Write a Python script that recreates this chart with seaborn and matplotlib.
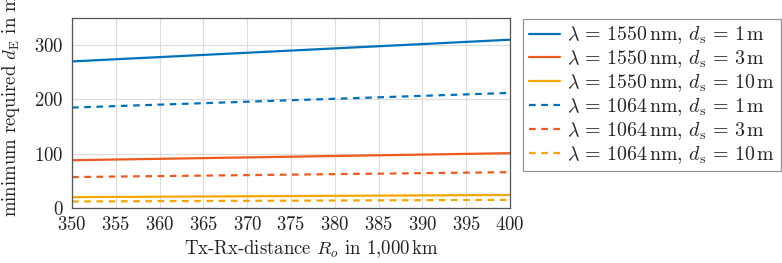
import matplotlib
matplotlib.use("Agg")
import matplotlib.pyplot as plt
import seaborn as sns
import pandas as pd

distance = [350, 375, 400]
blue_1550 = [270, 290, 310]
red_1550 = [88, 94.5, 101]
yellow_1550 = [20, 22, 24]
blue_1064 = [185, 198.5, 212]
red_1064 = [57, 61.5, 66]
yellow_1064 = [12, 13.5, 15]

labels = [
    r"$\lambda\,=\,1550\,\mathrm{nm},\,d_\mathrm{s}\,=\,1\,\mathrm{m}$",
    r"$\lambda\,=\,1550\,\mathrm{nm},\,d_\mathrm{s}\,=\,3\,\mathrm{m}$",
    r"$\lambda\,=\,1550\,\mathrm{nm},\,d_\mathrm{s}\,=\,10\,\mathrm{m}$",
    r"$\lambda\,=\,1064\,\mathrm{nm},\,d_\mathrm{s}\,=\,1\,\mathrm{m}$",
    r"$\lambda\,=\,1064\,\mathrm{nm},\,d_\mathrm{s}\,=\,3\,\mathrm{m}$",
    r"$\lambda\,=\,1064\,\mathrm{nm},\,d_\mathrm{s}\,=\,10\,\mathrm{m}$",
]
series = [blue_1550, red_1550, yellow_1550, blue_1064, red_1064, yellow_1064]
colors = ["#0072BD", "#EE5A1E", "#F4A700", "#0072BD", "#EE5A1E", "#F4A700"]
styles = ["-", "-", "-", (0, (3, 2.5)), (0, (3, 2.5)), (0, (3, 2.5))]

sns.set_style("white")
plt.rcParams["font.family"] = ["cmr10", "DejaVu Serif"]
plt.rcParams["mathtext.fontset"] = "cm"
plt.rcParams["axes.formatter.use_mathtext"] = True
plt.rcParams["font.size"] = 13

rows = []
for lab, vals in zip(labels, series):
    for x, y in zip(distance, vals):
        rows.append({"x": x, "y": y, "s": lab})
df = pd.DataFrame(rows)

fig = plt.figure(figsize=(7.82, 2.63), dpi=100)
ax = fig.add_axes([72 / 782, 1 - 208 / 263, (510 - 72) / 782, (208 - 18) / 263])

for lab, c, ls in zip(labels, colors, styles):
    sub = df[df["s"] == lab]
    sns.lineplot(data=sub, x="x", y="y", ax=ax, color=c, linestyle=ls, lw=1.6, label=lab)

ax.set_xlim(350, 400)
ax.set_ylim(0, 350)
ax.set_xticks(range(350, 401, 5))
ax.set_yticks([0, 100, 200, 300])
ax.grid(True, color="#dcdcdc", lw=0.8)
ax.set_axisbelow(True)
for sp in ax.spines.values():
    sp.set_color("#555555")
    sp.set_linewidth(0.9)
ax.tick_params(axis="both", labelsize=13.5, length=0, pad=6, colors="#222222")
ax.set_xlabel("")
ax.set_ylabel("")
fig.text(311 / 782, 1 - 249 / 263, r"Tx-Rx-distance $R_o$ in 1,000$\,$km",
         ha="center", va="center", fontsize=13.5, color="#222222")
fig.text(11 / 782, 1 - 217 / 263, r"minimum required $d_\mathrm{E}$ in m",
         rotation=90, ha="center", va="bottom", fontsize=13.5, color="#222222")

leg = ax.legend(loc="upper left", bbox_to_anchor=(523 / 782, 1 - 19 / 263), bbox_transform=fig.transFigure,
                frameon=True, fancybox=False, edgecolor="#777777", fontsize=14.3,
                handlelength=1.6, handletextpad=0.35, labelspacing=0.1, borderpad=0.28,
                borderaxespad=0)
leg.get_frame().set_linewidth(0.9)

fig.savefig("out.png", dpi=100)
